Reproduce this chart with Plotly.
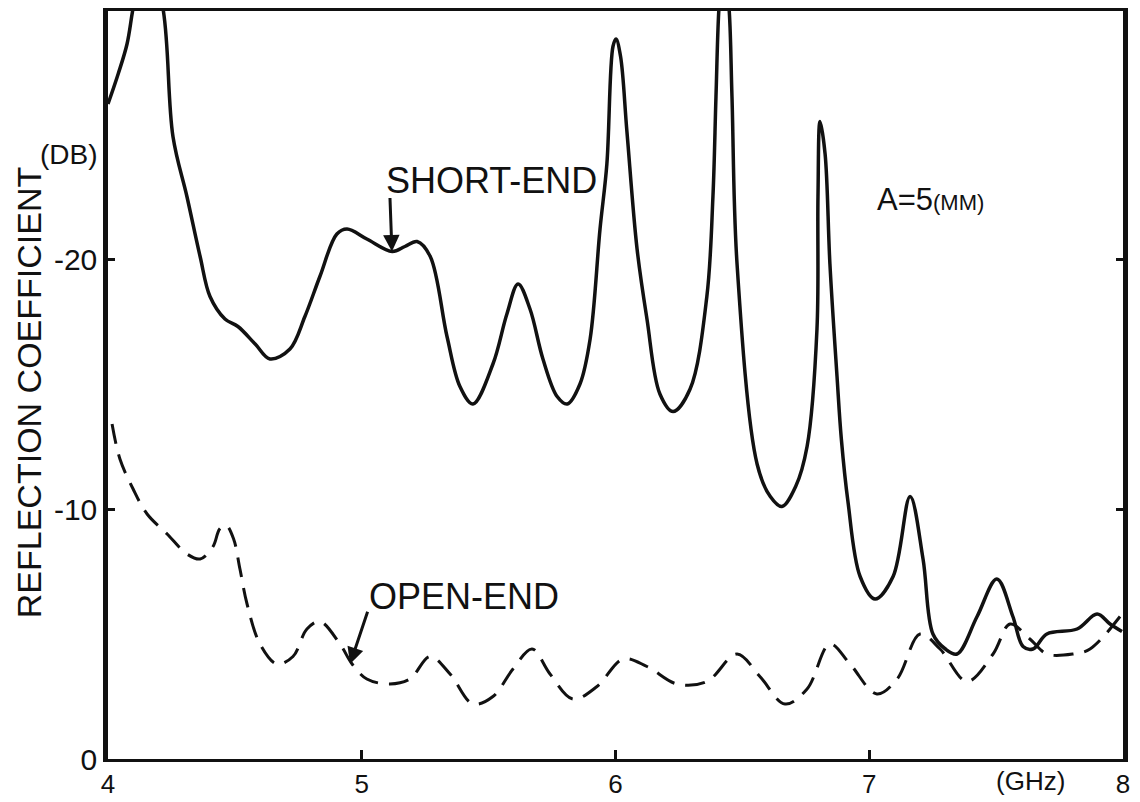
import plotly.graph_objects as go

# Short-end (solid) reflection coefficient, magnitude in dB (plotted as -dB)
short_f = [4.0, 4.04, 4.075, 4.10, 4.15, 4.217, 4.256, 4.311, 4.363, 4.402, 4.461, 4.512, 4.58, 4.638,
           4.717, 4.776, 4.835, 4.902, 4.942, 5.02, 5.12, 5.17, 5.218, 5.27, 5.336, 5.387, 5.438,
           5.517, 5.572, 5.616, 5.663, 5.714, 5.77, 5.81, 5.86, 5.90, 5.939, 5.966, 5.99, 6.002,
           6.02, 6.045, 6.085, 6.124, 6.175, 6.227, 6.294, 6.36, 6.384, 6.396, 6.408, 6.425, 6.447,
           6.459, 6.479, 6.558, 6.61, 6.656, 6.71, 6.755, 6.794, 6.798, 6.806, 6.826, 6.845, 6.873,
           6.89, 6.916, 6.964, 7.023, 7.094, 7.161, 7.212, 7.251, 7.30, 7.346, 7.425, 7.503, 7.566,
           7.606, 7.645, 7.70, 7.819, 7.898, 7.949, 7.996]
short_db = [26.2, 27.4, 28.6, 30.1, 32.5, 30.0, 24.9, 22.5, 20.1, 18.5, 17.6, 17.3, 16.6, 16.0,
            16.4, 17.7, 19.3, 21.0, 21.2, 20.8, 20.3, 20.5, 20.7, 20.1, 16.9, 14.9, 14.2,
            15.8, 17.8, 19.0, 18.0, 16.0, 14.5, 14.2, 15.0, 16.8, 21.2, 23.8, 28.5, 28.8,
            28.1, 25.1, 20.4, 17.6, 14.6, 13.9, 14.8, 18.5, 22.5, 26.5, 30.1, 32.0, 30.1,
            26.5, 19.8, 11.8, 10.5, 10.1, 10.9, 12.5, 17.2, 22.5, 25.5, 24.2, 19.8, 15.3,
            12.8, 10.3, 7.3, 6.4, 7.3, 10.5, 8.0, 5.0, 4.4, 4.2, 5.7, 7.2, 5.7,
            4.5, 4.4, 5.0, 5.2, 5.8, 5.4, 5.1]

# Open-end (dashed)
open_f = [4.016, 4.047, 4.099, 4.154, 4.233, 4.311, 4.363, 4.414, 4.44, 4.465, 4.495, 4.52, 4.548, 4.599,
          4.666, 4.729, 4.784, 4.835, 4.914, 4.962, 5.02, 5.111, 5.19, 5.269, 5.348, 5.438, 5.517, 5.596,
          5.671, 5.742, 5.832, 5.927, 6.03, 6.124, 6.242, 6.36, 6.479, 6.569, 6.668, 6.755, 6.845,
          6.924, 7.03, 7.11, 7.2, 7.279, 7.385, 7.488, 7.555, 7.633, 7.70, 7.803, 7.87, 7.996]
open_db = [13.4, 12.0, 10.8, 9.8, 9.0, 8.2, 8.0, 8.5, 9.2, 9.35, 8.8, 7.6, 6.2, 4.6,
           3.8, 4.1, 5.2, 5.5, 4.6, 3.8, 3.2, 3.0, 3.2, 4.1, 3.4, 2.2, 2.5, 3.6,
           4.4, 3.4, 2.4, 2.9, 4.0, 3.7, 3.0, 3.1, 4.2, 3.3, 2.2, 2.8, 4.6,
           3.8, 2.6, 3.2, 5.0, 4.4, 3.1, 4.2, 5.4, 4.8, 4.2, 4.2, 4.4, 5.8]

x_ticks = [4, 5, 6, 7, 8]
x_ticktext = ["4", "5", "6", "7", "8"]
y_ticks = [0, 10, 20]
y_ticktext = ["0", "-10", "-20"]

FONT = "Liberation Sans, Arial, Helvetica, sans-serif"
INK = "#111111"

fig = go.Figure()
fig.add_trace(go.Scatter(x=short_f, y=short_db, mode="lines",
                         line=dict(color=INK, width=3.5, shape="spline", smoothing=1.0),
                         showlegend=False, hoverinfo="skip"))
fig.add_trace(go.Scatter(x=open_f, y=open_db, mode="lines",
                         line=dict(color=INK, width=3, dash="20px,11px", shape="spline", smoothing=1.0),
                         showlegend=False, hoverinfo="skip"))

# page body adds an 8px offset, so the figure is sized to fit inside the window
fig.update_layout(
    width=1132, height=794,
    margin=dict(l=100, r=17, t=3, b=43, autoexpand=False),
    paper_bgcolor="white", plot_bgcolor="white",
    font=dict(family=FONT, color=INK),
    xaxis=dict(range=[4, 8], tickvals=x_ticks, ticktext=x_ticktext, showgrid=False, zeroline=False,
               showline=True, linecolor=INK, linewidth=3, mirror=True, automargin=False,
               ticks="inside", ticklen=9, tickwidth=3, tickcolor=INK,
               tickfont=dict(size=26, family=FONT, color=INK)),
    yaxis=dict(range=[0, 29.92], tickvals=y_ticks, ticktext=y_ticktext, showgrid=False, zeroline=False,
               showline=True, linecolor=INK, linewidth=4.5, mirror="ticks", automargin=False,
               ticks="inside", ticklen=7, tickwidth=3, tickcolor=INK,
               tickfont=dict(size=30, family=FONT, color=INK)),
)

fig.add_annotation(x=5.513, y=23.16, xref="x", yref="y", text="SHORT-END", showarrow=False,
                   font=dict(family=FONT, size=36, color=INK))
fig.add_annotation(x=5.119, y=20.3, ax=5.111, ay=22.5, xref="x", yref="y", axref="x", ayref="y",
                   text="", showarrow=True, arrowhead=2, arrowsize=1.1, arrowwidth=3, arrowcolor=INK)
fig.add_annotation(x=5.403, y=6.52, xref="x", yref="y", text="OPEN-END", showarrow=False,
                   font=dict(family=FONT, size=36, color=INK))
fig.add_annotation(x=4.954, y=3.8, ax=5.025, ay=5.95, xref="x", yref="y", axref="x", ayref="y",
                   text="", showarrow=True, arrowhead=2, arrowsize=1.1, arrowwidth=3, arrowcolor=INK)
fig.add_annotation(x=7.243, y=22.4, xref="x", yref="y",
                   text="A=5<span style='font-size:22px'>(MM)</span>", showarrow=False,
                   font=dict(family=FONT, size=31, color=INK))
fig.add_annotation(x=0, y=0.831, xref="paper", yref="paper", xanchor="right", xshift=-8,
                   text="(DB)", showarrow=False, font=dict(family=FONT, size=28, color=INK))
fig.add_annotation(x=7.637, y=-0.03, xref="x", yref="paper", yanchor="middle",
                   text="(GHz)", showarrow=False, font=dict(family=FONT, size=26, color=INK))
fig.add_annotation(x=0, y=0.489, xref="paper", yref="paper", xanchor="center", yanchor="middle",
                   xshift=-79, textangle=-90,
                   text="REFLECTION COEFFICIENT", showarrow=False,
                   font=dict(family=FONT, size=34, color=INK))

fig.write_html("out.html")
